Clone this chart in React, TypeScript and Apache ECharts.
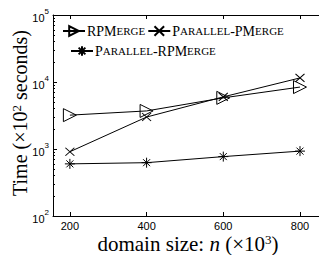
import React, { useEffect, useRef } from "react";
import * as echarts from "echarts";

const domainSizes = [200, 400, 600, 800];
const rpMerge = [3200, 3700, 5800, 8400];
const parallelPMerge = [910, 3000, 6000, 11500];
const parallelRPMerge = [600, 625, 770, 930];
const minorTickValues = [
  200, 300, 400, 500, 600, 700, 800, 900,
  2000, 3000, 4000, 5000, 6000, 7000, 8000, 9000,
  20000, 30000, 40000, 50000, 60000, 70000, 80000, 90000,
];

const SERIF = "'Liberation Serif', 'DejaVu Serif', serif";
const SANS = "'Liberation Sans', Arial, sans-serif";

const triPath = "path://M0,0 L10,5 L0,10 Z";
const xPath = "path://M0,0 L10,10 M10,0 L0,10";
const starPath = "path://M5,0 L5,10 M0,5 L10,5 M1.5,1.5 L8.5,8.5 M8.5,1.5 L1.5,8.5";

function smallCaps(name: string): string {
  let out = "";
  let cur = "";
  let curType = "";
  const flush = () => {
    if (cur) out += "{" + curType + "|" + cur + "}";
    cur = "";
  };
  for (const ch of name) {
    const isLower = ch >= "a" && ch <= "z";
    const t = isLower ? "s" : "c";
    if (t !== curType) {
      flush();
      curType = t;
    }
    cur += isLower ? ch.toUpperCase() : ch;
  }
  flush();
  return out;
}

export default function App() {
  const ref = useRef<HTMLDivElement>(null);
  useEffect(() => {
    if (!ref.current) return;
    const chart = echarts.init(ref.current, null, { renderer: "svg" });
    const lineStyle = { color: "#000", width: 1 };
    const markerStyle = { color: "rgba(0,0,0,0)", borderColor: "#000", borderWidth: 1 };
    const legendRich = {
      c: { fontFamily: SERIF, fontSize: 14, color: "#000" },
      s: { fontFamily: SERIF, fontSize: 11, color: "#000" },
    };
    chart.setOption({
      animation: false,
      grid: { left: 53, top: 15, width: 270, height: 201, containLabel: false, outerBoundsMode: "none" },
      xAxis: [
        {
          type: "value",
          min: 156,
          max: 860,
          axisLine: { show: true, lineStyle: { color: "#000", width: 1 } },
          axisTick: { show: true, inside: true, length: 4, lineStyle: { color: "#000" }, customValues: domainSizes },
          axisLabel: { fontFamily: SANS, fontSize: 11, color: "#000", margin: 4, customValues: domainSizes },
          splitLine: { show: false },
          name: "{t|domain size: }{i|n}{t| (×10}{p|3}{t|)}",
          nameLocation: "middle",
          nameGap: 17,
          nameMoveOverlap: false,
          nameTextStyle: {
            rich: {
              t: { fontFamily: SERIF, fontSize: 21, lineHeight: 21, color: "#000" },
              i: { fontFamily: SERIF, fontSize: 21, lineHeight: 21, fontStyle: "italic", color: "#000" },
              p: { fontFamily: SERIF, fontSize: 13, lineHeight: 21, color: "#000", verticalAlign: "top" },
            },
          },
        },
        {
          type: "value",
          position: "top",
          min: 156,
          max: 860,
          axisLine: { show: true, lineStyle: { color: "#000", width: 1 } },
          axisTick: { show: true, inside: true, length: 4, lineStyle: { color: "#000" }, customValues: domainSizes },
          axisLabel: { show: false, customValues: domainSizes },
          splitLine: { show: false },
        },
      ],
      yAxis: [
        {
          type: "log",
          logBase: 10,
          min: 100,
          max: 100000,
          axisLine: { show: true, lineStyle: { color: "#000", width: 1 } },
          axisTick: { show: true, inside: true, length: 4, lineStyle: { color: "#000" } },
          minorTick: { show: false },
          splitLine: { show: false },
          axisLabel: {
            margin: 4,
            formatter: (v: number) => "{b|10}{s|" + Math.round(Math.log10(v)) + "}",
            rich: {
              b: { fontFamily: SANS, fontSize: 11, color: "#000", padding: [5, 0, 0, 0] },
              s: { fontFamily: SANS, fontSize: 8, color: "#000", verticalAlign: "top" },
            },
          },
          name: "{t|Time (×10}{p|2}{t| seconds)}",
          nameLocation: "middle",
          nameGap: 23,
          nameMoveOverlap: false,
          nameRotate: 90,
          nameTextStyle: {
            padding: [0, 0, 0, 5],
            rich: {
              t: { fontFamily: SERIF, fontSize: 20, color: "#000" },
              p: { fontFamily: SERIF, fontSize: 13, color: "#000", verticalAlign: "top" },
            },
          },
        },
        {
          type: "log",
          logBase: 10,
          min: 100,
          max: 100000,
          position: "right",
          axisLine: { show: true, lineStyle: { color: "#000", width: 1 } },
          axisTick: { show: true, inside: true, length: 4, lineStyle: { color: "#000" } },
          axisLabel: { show: false },
          splitLine: { show: false },
        },
        {
          type: "log",
          logBase: 10,
          min: 100,
          max: 100000,
          position: "left",
          axisLine: { show: false },
          axisTick: { show: true, inside: true, length: 2, lineStyle: { color: "#000" }, customValues: minorTickValues },
          axisLabel: { show: false, customValues: minorTickValues },
          splitLine: { show: false },
        },
      ],
      legend: [
        {
          left: 62,
          top: 24,
          itemGap: 2,
          itemWidth: 22,
          itemHeight: 12,
          padding: 0,
          data: ["RPMerge", "Parallel-PMerge"],
          formatter: (n: string) => smallCaps(n),
          textStyle: { rich: legendRich, padding: [0, 0, 0, -3] },
        },
        {
          left: 70,
          top: 44,
          itemWidth: 22,
          itemHeight: 12,
          padding: 0,
          data: ["Parallel-RPMerge"],
          formatter: (n: string) => smallCaps(n),
          textStyle: { rich: legendRich, padding: [0, 0, 0, -3] },
        },
      ],
      series: [
        {
          name: "RPMerge",
          type: "line",
          data: domainSizes.map((x, i) => [x, rpMerge[i]]),
          symbol: triPath,
          symbolSize: [13, 13],
          lineStyle,
          itemStyle: markerStyle,
        },
        {
          name: "Parallel-PMerge",
          type: "line",
          data: domainSizes.map((x, i) => [x, parallelPMerge[i]]),
          symbol: xPath,
          symbolSize: [9, 8],
          lineStyle,
          itemStyle: markerStyle,
        },
        {
          name: "Parallel-RPMerge",
          type: "line",
          data: domainSizes.map((x, i) => [x, parallelRPMerge[i]]),
          symbol: starPath,
          symbolSize: [10, 10],
          lineStyle,
          itemStyle: markerStyle,
        },
      ],
    });
    return () => chart.dispose();
  }, []);
  return <div ref={ref} style={{ width: 319, height: 255, position: "absolute", left: 0, top: 0 }} />;
}
